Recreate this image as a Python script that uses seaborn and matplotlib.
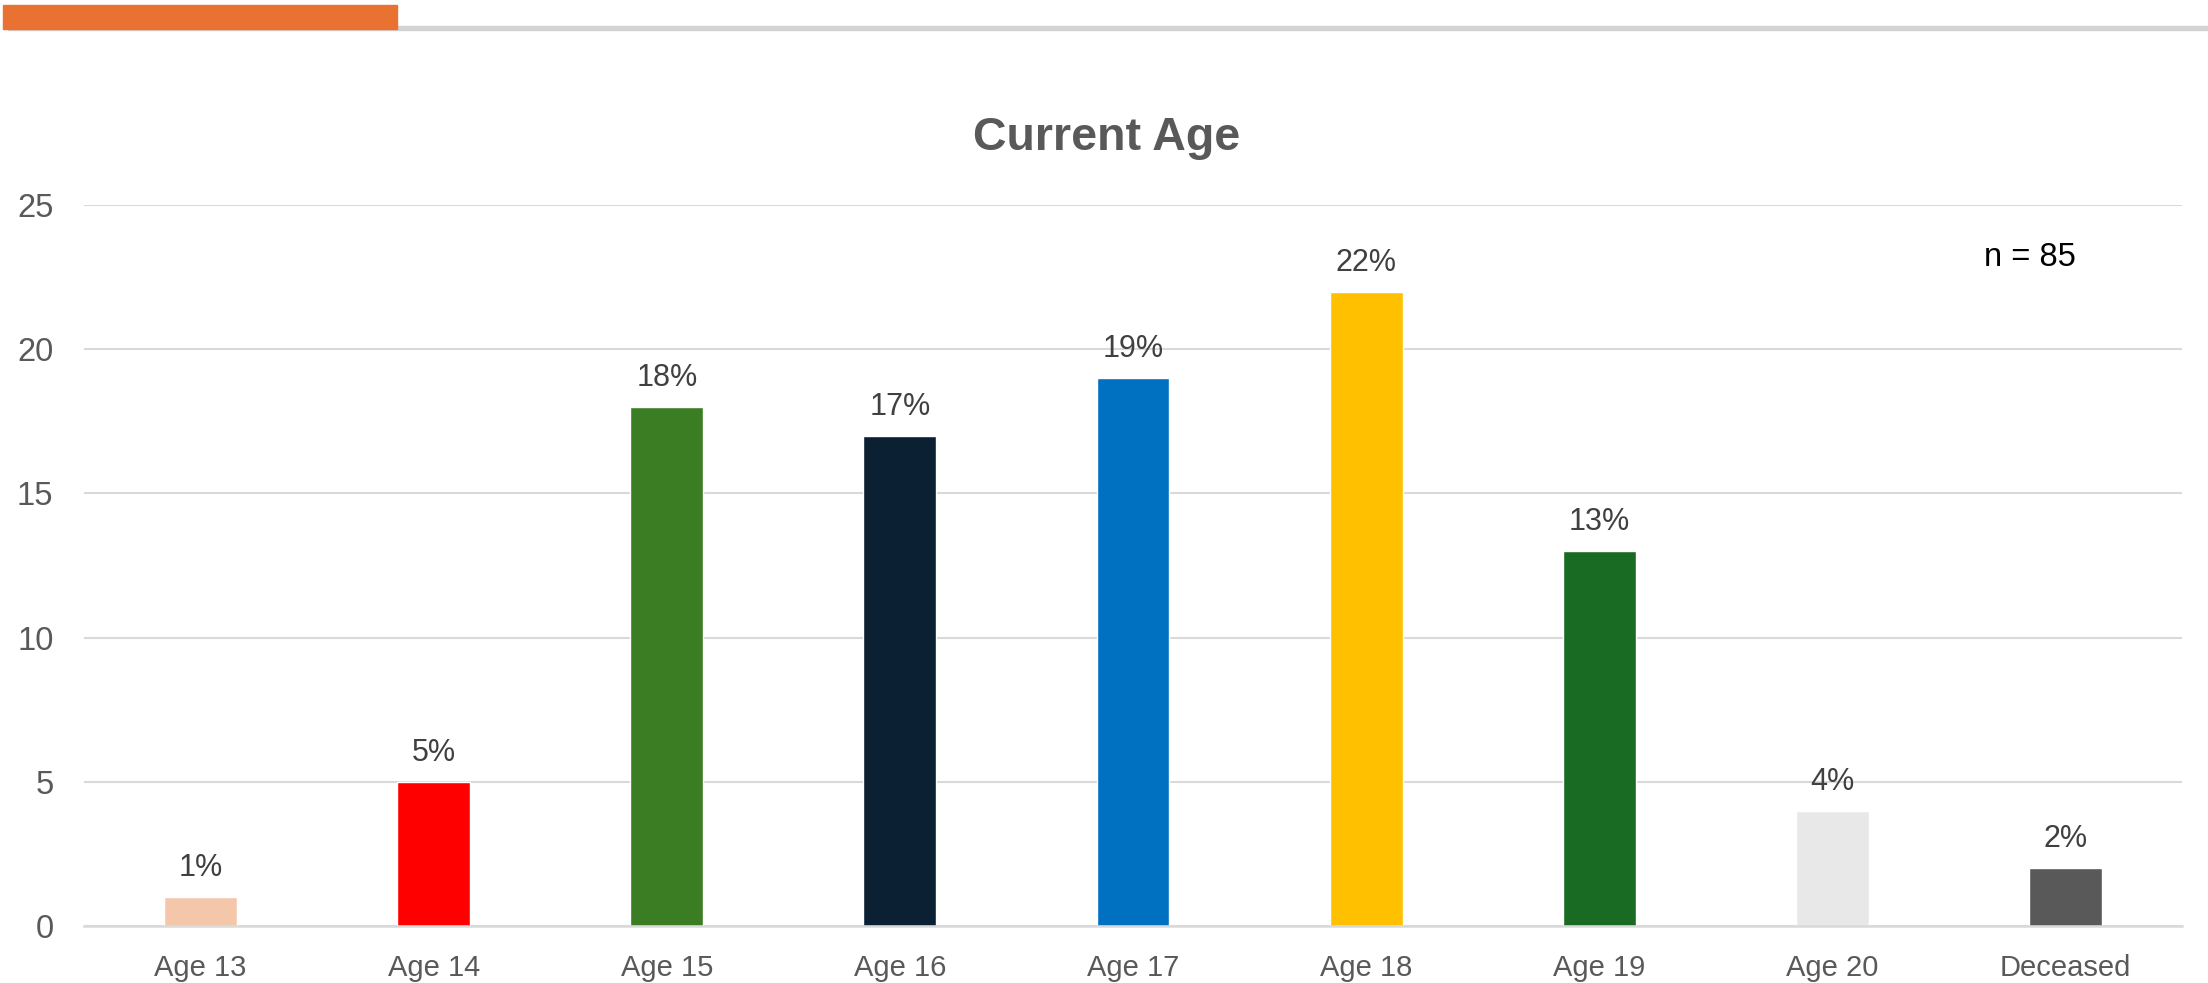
import numpy as np
import pandas as pd
import seaborn as sns
import matplotlib.pyplot as plt
from matplotlib.patches import Rectangle

categories = ["Age 13", "Age 14", "Age 15", "Age 16", "Age 17", "Age 18", "Age 19", "Age 20", "Deceased"]
counts = [1, 5, 18, 17, 19, 22, 13, 4, 2]
pct_labels = ["1%", "5%", "18%", "17%", "19%", "22%", "13%", "4%", "2%"]
colors = ["#F4C7AB", "#FF0000", "#3A7D22", "#0C2033", "#0070C0", "#FFC000", "#196B24", "#E8E8E8", "#595959"]
n_total = 85

df = pd.DataFrame({"cat": categories, "count": counts})

sns.set_style("white")
plt.rcParams["font.family"] = ["Liberation Sans", "DejaVu Sans"]

W, H = 2208, 983
fig = plt.figure(figsize=(W / 100, H / 100), dpi=100)
ax = fig.add_axes([84 / W, (H - 926) / H, (2182 - 84) / W, (926 - 205) / H])

sns.barplot(data=df, x="cat", y="count", hue="cat", palette=colors,
            width=0.313, legend=False, saturation=1, ax=ax)

ax.set_ylim(0, 25)
ax.set_xlim(-0.5, len(categories) - 0.5)
ax.set_yticks([0, 5, 10, 15, 20, 25])
ax.yaxis.grid(True, color="#D9D9D9", linewidth=1.5)
ax.set_axisbelow(True)
for s in ["top", "right", "left"]:
    ax.spines[s].set_visible(False)
ax.spines["bottom"].set_color("#D9D9D9")
ax.spines["bottom"].set_linewidth(1.8)
ax.tick_params(axis="y", length=0, pad=22, labelsize=23.5, labelcolor="#595959")
ax.tick_params(axis="x", length=0, pad=20, labelsize=21, labelcolor="#595959")
ax.set_xlabel("")
ax.set_ylabel("")

for i, (c, lab) in enumerate(zip(counts, pct_labels)):
    ax.annotate(lab, (i, c), xytext=(0, 10), textcoords="offset points",
                ha="center", va="bottom", fontsize=22, color="#404040")

fig.text(1107 / W, 1 - 138 / H, "Current Age", ha="center", va="center",
         fontsize=33.5, fontweight="bold", color="#595959")
fig.text(2030 / W, 1 - 258 / H, f"n = {n_total}", ha="center", va="center",
         fontsize=23.5, color="black")

# header decoration
fig.patches.append(Rectangle((8 / W, 1 - 30 / H), (W - 8) / W, 4 / H,
                             transform=fig.transFigure, color="#D3D3D3", zorder=1))
fig.patches.append(Rectangle((3 / W, 1 - 29 / H), 394 / W, 24 / H,
                             transform=fig.transFigure, color="#E97132", zorder=2))

fig.savefig("out.png", dpi=100, facecolor="white")
